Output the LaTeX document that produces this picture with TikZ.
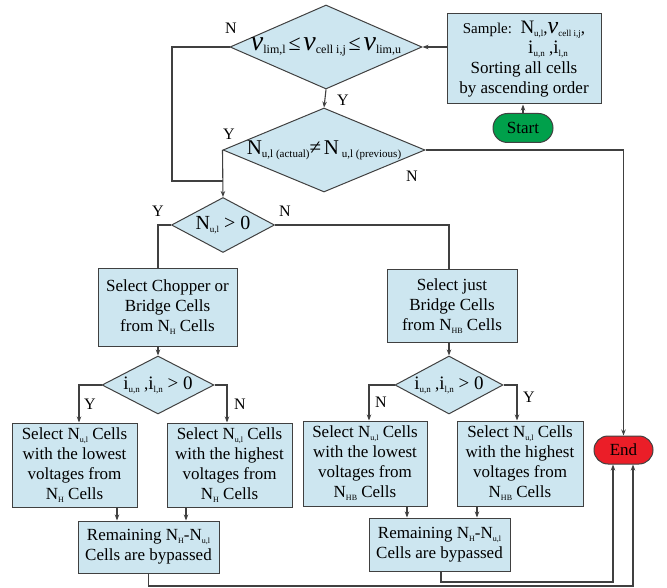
\documentclass[tikz,border=0pt]{standalone}
\usepackage{fontspec}
\setmainfont{Liberation Serif}
\usetikzlibrary{
    arrows.meta,
    shapes.geometric,
    shapes.misc
}
\definecolor{boxblue}{RGB}{205,230,240}
\definecolor{startgreen}{RGB}{0,160,75}
\definecolor{endred}{RGB}{235,30,40}
\definecolor{linegray}{RGB}{64,64,64}
\newcommand{\sbs}[2][8]{\raisebox{-3pt}{\fontsize{#1}{#1}\selectfont #2}}
\tikzset{
    every picture/.style = {
        > = {Stealth[length=6pt, width=4.5pt]},
        x = 1pt,
        y = -1pt
    },
    procbox/.style = {
        rectangle,
        draw = linegray,
        line width = 1pt,
        fill = boxblue,
        inner sep = 0pt,
        align = center
    },
    decision/.style = {
        diamond,
        draw = linegray,
        line width = 1pt,
        fill = boxblue,
        inner sep = 0pt
    },
    term/.style = {
        rounded rectangle,
        draw = linegray,
        line width = 1pt,
        inner sep = 0pt
    },
    flow/.style = {
        draw = linegray,
        line width = 1.1pt
    },
    yn/.style = {
        font = {\fontsize{16}{16}\selectfont}
    }
}

\begin{document}
\begin{tikzpicture}[node font = {\fontsize{17}{20}\selectfont}]
    \useasboundingbox (0,0) rectangle (667,588);

    % top part
    \node[decision, minimum width=192pt, minimum height=84pt] (check) at (326,47)
        {\makebox[0pt]{{\fontsize{28}{28}\selectfont\itshape v}\sbs[12]{lim,l}\,{\fontsize{22}{22}\selectfont ≤}\,{\fontsize{28}{28}\selectfont\itshape v}\sbs[12]{cell i,j}\,{\fontsize{22}{22}\selectfont ≤}\,{\fontsize{28}{28}\selectfont\itshape v}\sbs[12]{lim,u}}};
    \node[procbox, minimum width=154pt, minimum height=90pt] (sample) at (524,59)
        {{\fontsize{15}{20}\selectfont Sample:}\ \ {\fontsize{19}{20}\selectfont N}\sbs[9]{u,l},{\fontsize{24}{20}\selectfont\itshape v}\sbs[9]{cell i,j},\\
         \hspace*{48pt}{\fontsize{19}{20}\selectfont i}\sbs[9]{u,n} ,{\fontsize{19}{20}\selectfont i}\sbs[9]{l,n}\\
         Sorting all cells\\by ascending order};
    \node[term, fill=startgreen, minimum width=60pt, minimum height=29pt] (start) at (523,128) {Start};
    \node[decision, minimum width=202pt, minimum height=84pt] (change) at (324,150)
        {\makebox[0pt]{{\fontsize{21}{21}\selectfont N}\sbs[11]{u,l (actual)}{\fontsize{21}{21}\selectfont ≠}\,{\fontsize{21}{21}\selectfont N}\sbs[11]{\ u,l (previous)}}};
    \node[decision, minimum width=103pt, minimum height=55pt] (positive) at (223,225)
        {\makebox[0pt]{{\fontsize{20}{20}\selectfont N}\sbs[9]{u,l}{\fontsize{20}{20}\selectfont\ >\ 0}}};

    % left branch
    \node[procbox, minimum width=139pt, minimum height=77pt] (chop) at (167.5,307.5)
        {Select Chopper or\\Bridge Cells\\from N\sbs{H} Cells};
    \node[decision, minimum width=112pt, minimum height=58pt] (splitH) at (158,385)
        {\makebox[0pt]{{\fontsize{19}{20}\selectfont i}\sbs[9]{u,n} ,{\fontsize{19}{20}\selectfont i}\sbs[9]{l,n}{\fontsize{19}{20}\selectfont\ >\ 0}}};
    \node[procbox, minimum width=125pt, minimum height=84pt] (lowH) at (74.5,465)
        {Select N\sbs{u,l} Cells\\with the lowest\\voltages from\\N\sbs{H} Cells};
    \node[procbox, minimum width=125pt, minimum height=84pt] (highH) at (229.5,465)
        {Select N\sbs{u,l} Cells\\with the highest\\voltages from\\N\sbs{H} Cells};
    \node[procbox, minimum width=141pt, minimum height=52pt] (remH) at (148.5,547)
        {Remaining N\sbs{H}-N\sbs{u,l}\\Cells are bypassed};

    % right branch
    \node[procbox, minimum width=130pt, minimum height=72pt] (just) at (452,306)
        {Select just\\Bridge Cells\\from N\sbs{HB} Cells};
    \node[decision, minimum width=108pt, minimum height=58pt] (splitHB) at (449,385)
        {\makebox[0pt]{{\fontsize{19}{20}\selectfont i}\sbs[9]{u,n} ,{\fontsize{19}{20}\selectfont i}\sbs[9]{l,n}{\fontsize{19}{20}\selectfont\ >\ 0}}};
    \node[procbox, minimum width=124pt, minimum height=85pt] (lowHB) at (365,463.5)
        {Select N\sbs{u,l} Cells\\with the lowest\\voltages from\\N\sbs{HB} Cells};
    \node[procbox, minimum width=126pt, minimum height=85pt] (highHB) at (520,463.5)
        {Select N\sbs{u,l} Cells\\with the highest\\voltages from\\N\sbs{HB} Cells};
    \node[procbox, minimum width=141pt, minimum height=53pt] (remHB) at (439.5,544.5)
        {Remaining N\sbs{H}-N\sbs{u,l}\\Cells are bypassed};

    \node[term, fill=endred, minimum width=59pt, minimum height=28pt] (stop) at (623.5,450) {End};

    % Y / N labels
    \node[yn] (n1) at (231,28) {N};
    \node[yn] (y1) at (343,100) {Y};
    \node[yn] (y2) at (229,134) {Y};
    \node[yn] (n2) at (412,176) {N};
    \node[yn] (y3) at (158,211) {Y};
    \node[yn] (n3) at (285,211) {N};
    \node[yn] (y4) at (90,404) {Y};
    \node[yn] (n4) at (240,404) {N};
    \node[yn] (n5) at (381,402) {N};
    \node[yn] (y5) at (529,397) {Y};

    \coordinate (nleft) at (172,181);
    \coordinate (backH) at (148.5,586);
    \coordinate (backHB) at (441,582);

    % connectors
    \draw[flow, ->] (start.north) -- (start.north |- sample.south);
    \draw[flow, ->] (sample.west |- check.east) -- (check.east);
    \draw[flow, ->] (check.south) -- (change.north);
    \draw[flow] (check.west) -| (nleft) -- (nleft -| change.west);
    \draw[flow, ->] (change.west) -- (positive.north);
    \draw[flow, ->] (change.east) -| (stop.north);
    \draw[flow] (positive.west) -| (splitH.north |- chop.north);
    \draw[flow] (positive.east) -| (splitHB.north |- just.north);
    \draw[flow, ->] (splitH.north |- chop.south) -- (splitH.north);
    \draw[flow, ->] (splitHB.north |- just.south) -- (splitHB.north);
    \draw[flow, ->] (splitH.west) -| ([xshift=4.5pt]lowH.north);
    \draw[flow, ->] (splitH.east) -| ([xshift=-2.5pt]highH.north);
    \draw[flow, ->] (splitHB.west) -| ([xshift=4pt]lowHB.north);
    \draw[flow, ->] (splitHB.east) -| ([xshift=-3pt]highHB.north);
    \draw[flow, ->] ([xshift=42.5pt]lowH.south) -- ([xshift=42.5pt]lowH.south |- remH.north);
    \draw[flow, ->] ([xshift=-43.5pt]highH.south) -- ([xshift=-43.5pt]highH.south |- remH.north);
    \draw[flow, ->] ([xshift=42pt]lowHB.south) -- ([xshift=42pt]lowHB.south |- remHB.north);
    \draw[flow, ->] ([xshift=-43pt]highHB.south) -- ([xshift=-43pt]highHB.south |- remHB.north);
    \draw[flow, ->] (remH.south) -- (backH) -| ([xshift=9.5pt]stop.south);
    \draw[flow, ->] (remHB.south -| backHB) -- (backHB) -| ([xshift=-10.5pt]stop.south);
\end{tikzpicture}
\end{document}
